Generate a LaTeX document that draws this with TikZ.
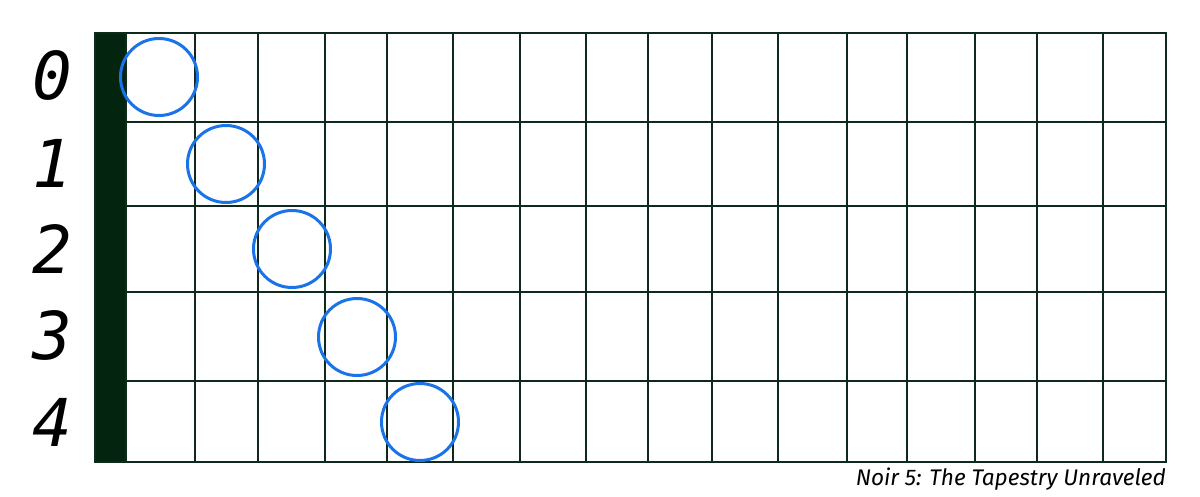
\documentclass[tikz,border=0pt]{standalone}
\usepackage{fontspec}
\newfontfamily\digitfont{DejaVu Sans Mono}
\newfontfamily\capfont{Fira Sans}
\definecolor{gridcol}{HTML}{0F2A1C}
\definecolor{barcol}{HTML}{03240F}
\definecolor{ringcol}{HTML}{1A73E8}
\tikzset{
  gridline/.style={draw=gridcol, line width=1.5pt},
  ring/.style={circle, draw=ringcol, line width=3pt, minimum size=77pt, inner sep=0pt},
  rowlabel/.style={font=\digitfont\itshape\fontsize{66}{66}\selectfont, inner sep=0pt},
  caption/.style={font=\capfont\itshape\fontsize{22.6}{24}\selectfont, inner sep=0pt, anchor=base east}
}
\begin{document}
\begin{tikzpicture}[x=1pt,y=-1pt]
\useasboundingbox (0,0) rectangle (1200,496);
\fill[white] (0,0) rectangle (1200,496);
\fill[barcol] (95,33) rectangle (126,462);
\foreach \x in {126,195,258,325,387,453,520,586,648,712,778,847,907,975,1037,1103}
  \draw[gridline] (\x,33) -- (\x,462);
\foreach \y in {122,206,292,381}
  \draw[gridline] (126,\y) -- (1166,\y);
\draw[gridline] (95,33) rectangle (1166,462);
\node[ring] (c0) at (159,77) {};
\node[ring] (c1) at (226,164) {};
\node[ring] (c2) at (292,249) {};
\node[ring] (c3) at (357,337) {};
\node[ring] (c4) at (420,422) {};
\node[rowlabel] (l0) at (52,75) {0};
\node[rowlabel] (l1) at (52,163) {1};
\node[rowlabel] (l2) at (52,249) {2};
\node[rowlabel] (l3) at (52,335) {3};
\node[rowlabel] (l4) at (52,422) {4};
\node[caption] (cap) at (1166,485) {Noir 5: The Tapestry Unraveled};
\end{tikzpicture}
\end{document}
